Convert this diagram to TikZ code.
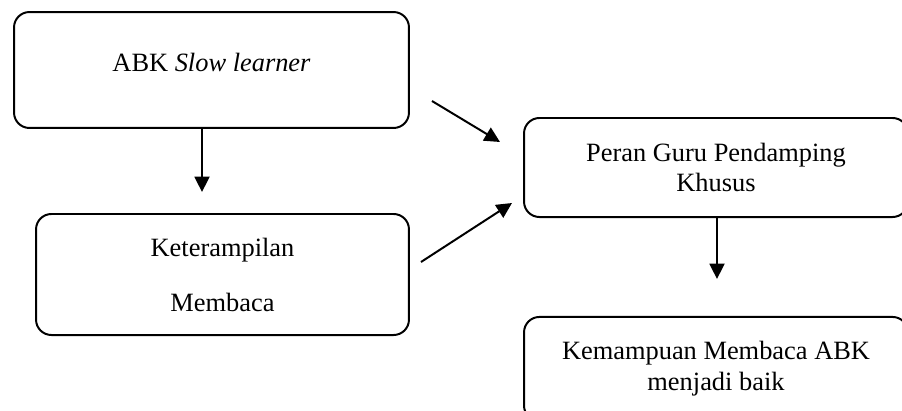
\documentclass[tikz,border=0pt]{standalone}
\usepackage{fontspec}
\setmainfont{Liberation Serif}
\usetikzlibrary{arrows.meta}

\begin{document}
\begin{tikzpicture}[x=0.4545pt, y=-0.4545pt,
    caixa/.style={draw, line width=0.9pt, rounded corners=7pt, align=center,
      font=\fontsize{12}{14}\selectfont},
    seta/.style={-{Triangle[length=7pt,width=6.8pt]}, line width=0.9pt}]
    \useasboundingbox (0,0) rectangle (902,410);
    \clip (0,0) rectangle (902,410);

    % Caixas
    \node[caixa, minimum width=179.5pt, minimum height=52.7pt, text depth=7.2pt]
      (abk) at (211.5,70) {ABK \textit{Slow learner}};
    \node[caixa, minimum width=169.5pt, minimum height=55pt]
      (baca) at (222.5,274.5) {Keterampilan\\[11pt]Membaca};
    \node[caixa, minimum width=174.5pt, minimum height=45pt]
      (peran) at (716,167.5) {Peran Guru Pendamping\\Khusus};
    \node[caixa, minimum width=174.5pt, minimum height=47.3pt]
      (hasil) at (716,369) {Kemampuan Membaca ABK\\menjadi baik};

    % Pontas das setas
    \coordinate (d1) at (202,192);
    \coordinate (a1) at (432,101);
    \coordinate (b1) at (500,142);
    \coordinate (a2) at (421,262);
    \coordinate (b2) at (512,203);
    \coordinate (d2) at (717,279);

    % Setas
    \draw[seta] (abk.south -| d1) -- (d1);
    \draw[seta] (a1) -- (b1);
    \draw[seta] (a2) -- (b2);
    \draw[seta] (peran.south -| d2) -- (d2);

\end{tikzpicture}
\end{document}
